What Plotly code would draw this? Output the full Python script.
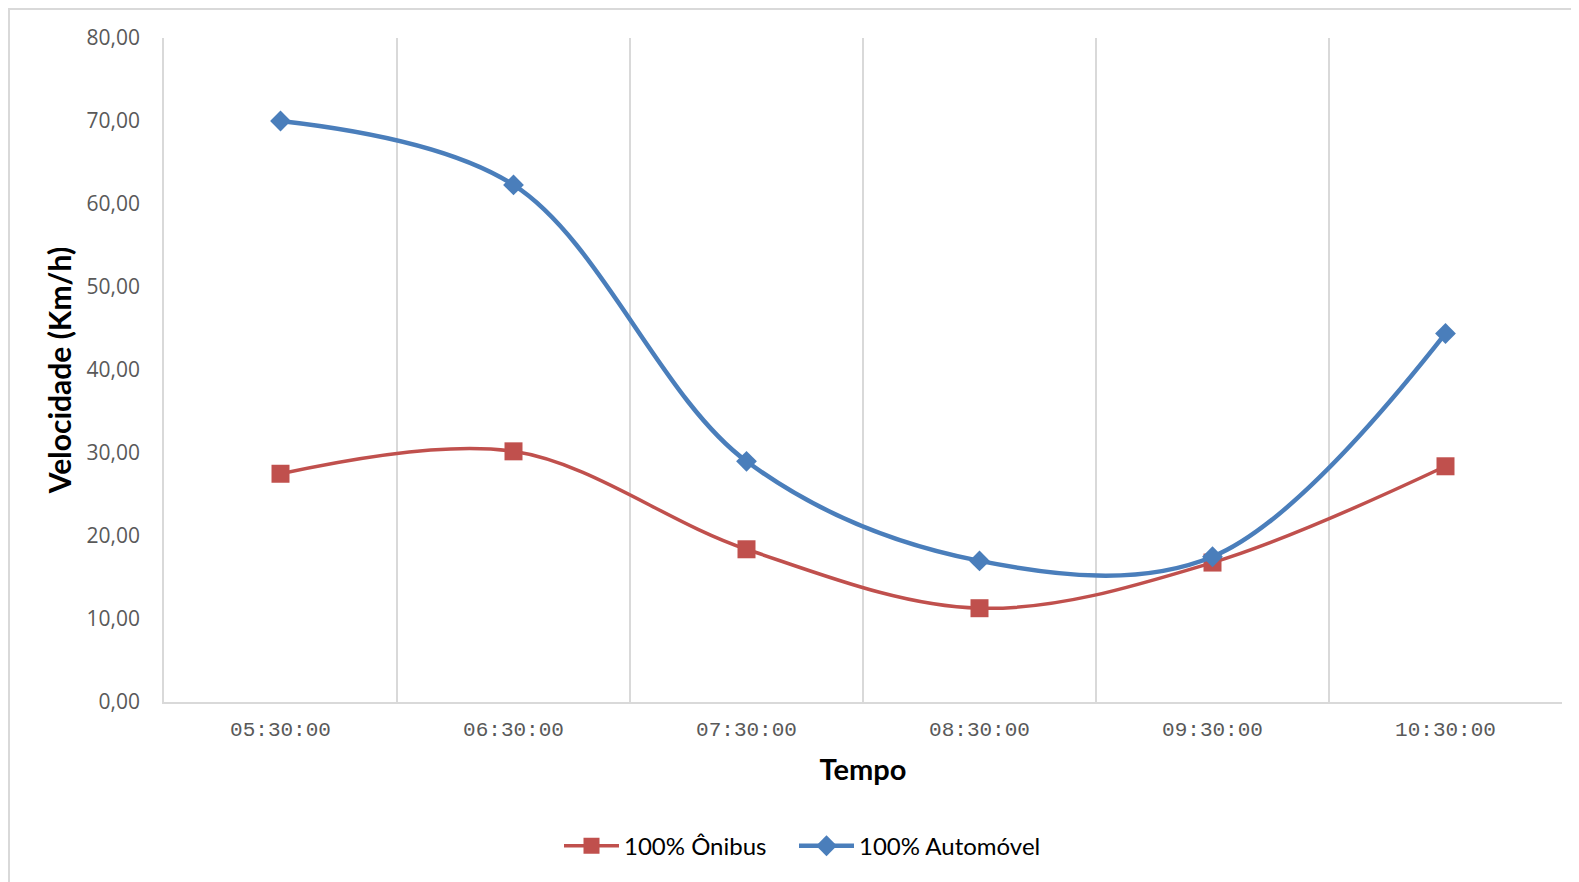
import plotly.graph_objects as go

categories = ["05:30:00", "06:30:00", "07:30:00", "08:30:00", "09:30:00", "10:30:00"]
onibus = [27.5, 30.2, 18.4, 11.3, 16.8, 28.4]
automovel = [70.0, 62.3, 29.0, 17.0, 17.5, 44.4]
y_ticks = [0, 10, 20, 30, 40, 50, 60, 70, 80]
y_ticktext = ["0,00", "10,00", "20,00", "30,00", "40,00", "50,00", "60,00", "70,00", "80,00"]

RED = "#C0504D"
BLUE = "#4A7EBB"
GRID = "#D9D9D9"

W, H = 1571, 874
L, T, PW, PH = 156, 30, 1398, 664

fig = go.Figure()
fig.add_trace(go.Scatter(
    x=categories, y=onibus, name="100% Ônibus", mode="lines+markers",
    line=dict(color=RED, width=3.5, shape="spline", smoothing=1.0),
    marker=dict(symbol="square", size=18, color=RED),
    legend="legend",
))
fig.add_trace(go.Scatter(
    x=categories, y=automovel, name="100% Automóvel", mode="lines+markers",
    line=dict(color=BLUE, width=4.5, shape="spline", smoothing=1.0),
    marker=dict(symbol="diamond", size=16, color=BLUE),
    legend="legend2",
))

legend_common = dict(
    orientation="h", xref="container", yref="container",
    xanchor="left", y=0.041, yanchor="middle",
    font=dict(family="Lato", size=24, color="#000000"),
    itemwidth=55, tracegroupgap=0, itemclick=False, bgcolor="rgba(0,0,0,0)",
)

fig.update_layout(
    width=W, height=H,
    margin=dict(l=L, r=W - L - PW, t=T, b=H - T - PH),
    paper_bgcolor="white", plot_bgcolor="white",
    showlegend=True,
    legend=dict(x=551 / W, **legend_common),
    legend2=dict(x=786 / W, **legend_common),
    xaxis=dict(
        type="category", categoryorder="array", categoryarray=categories,
        range=[-0.5, 5.5], tickson="boundaries", showgrid=True,
        gridcolor=GRID, gridwidth=1.5,
        showline=True, linecolor=GRID, linewidth=2,
        ticks="", ticklabelstandoff=7,
        tickfont=dict(family="Liberation Mono", size=21, color="#595959"),
        title=dict(text="<b>Tempo</b>", font=dict(family="Lato", size=29, color="#000000"), standoff=18),
        zeroline=False,
    ),
    yaxis=dict(
        range=[0, 80], tickmode="array", tickvals=y_ticks, ticktext=y_ticktext,
        showgrid=False, showline=True, linecolor=GRID, linewidth=1.5,
        ticks="", ticklabelstandoff=18,
        tickfont=dict(family="Open Sans", size=21, color="#595959"),
        title=dict(text="<b>Velocidade (Km/h)</b>", font=dict(family="Lato", size=30, color="#000000"), standoff=6),
        zeroline=False,
    ),
    shapes=[dict(
        type="rect", xref="paper", yref="paper",
        x0=(1 - L) / PW, x1=(W + 20 - L) / PW,
        y0=(T + PH - H - 20) / PH, y1=(T + PH - 1) / PH,
        line=dict(color=GRID, width=2), fillcolor="rgba(0,0,0,0)", layer="below",
    )],
)

fig.write_html("out.html")
